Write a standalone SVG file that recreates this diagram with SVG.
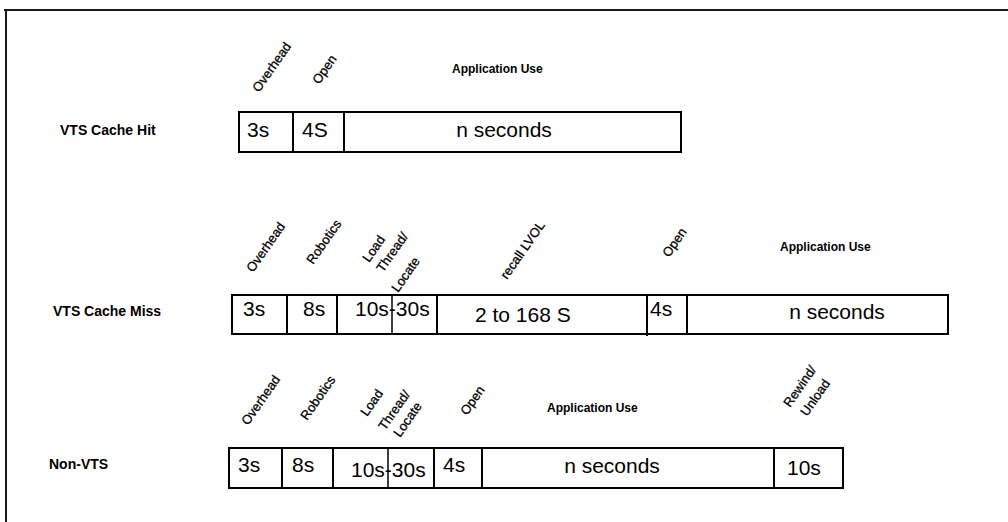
<svg xmlns="http://www.w3.org/2000/svg" width="1008" height="522" viewBox="0 0 1008 522">
<style>
.frame{stroke:#1a1a1a;stroke-width:2;fill:none}
.box{fill:#fff;stroke:#000;stroke-width:2}
.div{stroke:#000;stroke-width:2}
.thin{stroke:#000;stroke-width:1.5}
.val{font-family:"Liberation Sans",Arial,sans-serif;font-size:21px;fill:#000}
.rl{font-family:"Liberation Sans",Arial,sans-serif;font-size:14px;font-weight:bold;fill:#000}
.app{font-family:"Liberation Sans",Arial,sans-serif;font-size:12px;font-weight:bold;fill:#000}
.rot{font-family:"Liberation Sans",Arial,sans-serif;font-size:13px;fill:#000;stroke:#000;stroke-width:0.3}
</style>
<rect width="1008" height="522" fill="#fff"/>
<g id="frame">
<line class="frame" x1="4" y1="10" x2="1008" y2="10"/>
<line class="frame" x1="6" y1="9" x2="6" y2="522"/>
</g>

<g id="row-cache-hit">
<text class="rl" x="60" y="135">VTS Cache Hit</text>
<text class="rot" transform="translate(259,93) rotate(-55)">Overhead</text>
<text class="rot" transform="translate(319,85) rotate(-55)">Open</text>
<text class="app" x="452" y="73">Application Use</text>
<rect class="box" x="239" y="112" width="442" height="40"/>
<line class="div" x1="293" y1="112" x2="293" y2="152"/>
<line class="div" x1="344" y1="112" x2="344" y2="152"/>
<text class="val" x="247" y="137">3s</text>
<text class="val" x="302" y="137">4S</text>
<text class="val" x="504" y="137" text-anchor="middle">n seconds</text>
</g>

<g id="row-cache-miss">
<text class="rl" x="53" y="316">VTS Cache Miss</text>
<text class="rot" transform="translate(253,273) rotate(-55)">Overhead</text>
<text class="rot" transform="translate(313,265) rotate(-55)">Robotics</text>
<text class="rot" transform="translate(369,263) rotate(-55)">Load</text>
<text class="rot" transform="translate(383,273) rotate(-55)">Thread/</text>
<text class="rot" transform="translate(398,293) rotate(-55)">Locate</text>
<text class="rot" transform="translate(507,280) rotate(-55)">recall LVOL</text>
<text class="rot" transform="translate(669,258) rotate(-55)">Open</text>
<text class="app" x="780" y="251">Application Use</text>
<rect class="box" x="232" y="295" width="716" height="39"/>
<line class="div" x1="287" y1="295" x2="287" y2="334"/>
<line class="div" x1="337" y1="295" x2="337" y2="334"/>
<line class="thin" x1="392" y1="295" x2="392" y2="334"/>
<line class="div" x1="437" y1="295" x2="437" y2="334"/>
<line class="div" x1="647" y1="295" x2="647" y2="336"/>
<line class="div" x1="687" y1="295" x2="687" y2="334"/>
<text class="val" x="243" y="316">3s</text>
<text class="val" x="303" y="316">8s</text>
<text class="val" x="355" y="316">10s-30s</text>
<text class="val" x="475" y="322">2 to 168 S</text>
<text class="val" x="650" y="316">4s</text>
<text class="val" x="837" y="319" text-anchor="middle">n seconds</text>
</g>

<g id="row-non-vts">
<text class="rl" x="49" y="469">Non-VTS</text>
<text class="rot" transform="translate(248,426) rotate(-55)">Overhead</text>
<text class="rot" transform="translate(307,421) rotate(-55)">Robotics</text>
<text class="rot" transform="translate(367,417) rotate(-55)">Load</text>
<text class="rot" transform="translate(385,431) rotate(-55)">Thread/</text>
<text class="rot" transform="translate(400,438) rotate(-55)">Locate</text>
<text class="rot" transform="translate(467,416) rotate(-55)">Open</text>
<text class="app" x="547" y="412">Application Use</text>
<text class="rot" transform="translate(790,408) rotate(-55)">Rewind/</text>
<text class="rot" transform="translate(807,417) rotate(-55)">Unload</text>
<rect class="box" x="229" y="448" width="614" height="40"/>
<line class="div" x1="282" y1="448" x2="282" y2="488"/>
<line class="div" x1="333" y1="448" x2="333" y2="488"/>
<line class="thin" x1="388" y1="448" x2="388" y2="488"/>
<line class="div" x1="434" y1="448" x2="434" y2="488"/>
<line class="div" x1="482" y1="448" x2="482" y2="488"/>
<line class="div" x1="774" y1="448" x2="774" y2="488"/>
<text class="val" x="238" y="472">3s</text>
<text class="val" x="292" y="472">8s</text>
<text class="val" x="351" y="477">10s-30s</text>
<text class="val" x="443" y="472">4s</text>
<text class="val" x="612" y="473" text-anchor="middle">n seconds</text>
<text class="val" x="787" y="475">10s</text>
</g>
</svg>
